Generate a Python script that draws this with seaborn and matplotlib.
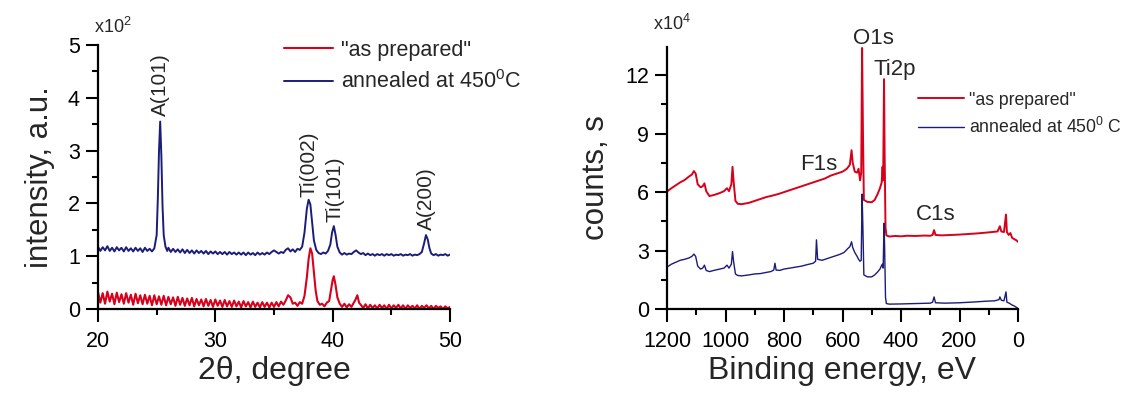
import matplotlib
matplotlib.use("Agg")
import matplotlib.pyplot as plt
import seaborn as sns
import pandas as pd
from matplotlib.ticker import MultipleLocator

# XRD patterns: (2theta, intensity x10^2)
xrd_as_prepared = [
    (20.0, 0.32), (20.2, 0.12), (20.4, 0.30), (20.6, 0.10), (20.8, 0.33), (21.0, 0.14), (21.2, 0.29), (21.4, 0.09),
    (21.6, 0.31), (21.8, 0.13), (22.0, 0.28), (22.2, 0.10), (22.4, 0.30), (22.6, 0.12), (22.8, 0.27), (23.0, 0.08),
    (23.2, 0.29), (23.4, 0.11), (23.6, 0.26), (23.8, 0.09), (24.0, 0.27), (24.2, 0.10), (24.4, 0.25), (24.6, 0.07),
    (24.8, 0.26), (25.0, 0.09), (25.2, 0.24), (25.4, 0.08), (25.6, 0.25), (25.8, 0.07), (26.0, 0.23), (26.2, 0.09),
    (26.4, 0.22), (26.6, 0.06), (26.8, 0.23), (27.0, 0.08), (27.2, 0.21), (27.4, 0.06), (27.6, 0.20), (27.8, 0.07),
    (28.0, 0.21), (28.2, 0.05), (28.4, 0.19), (28.6, 0.07), (28.8, 0.18), (29.0, 0.05), (29.2, 0.19), (29.4, 0.06),
    (29.6, 0.17), (29.8, 0.04), (30.0, 0.18), (30.2, 0.06), (30.4, 0.16), (30.6, 0.04), (30.8, 0.17), (31.0, 0.05),
    (31.2, 0.15), (31.4, 0.04), (31.6, 0.16), (31.8, 0.05), (32.0, 0.14), (32.2, 0.03), (32.4, 0.15), (32.6, 0.05),
    (32.8, 0.13), (33.0, 0.03), (33.2, 0.14), (33.4, 0.04), (33.6, 0.12), (33.8, 0.03), (34.0, 0.13), (34.2, 0.04),
    (34.4, 0.12), (34.6, 0.03), (34.8, 0.12), (35.0, 0.04), (35.2, 0.13), (35.4, 0.05), (35.6, 0.14), (35.8, 0.08),
    (36.0, 0.16), (36.2, 0.26), (36.4, 0.22), (36.6, 0.10), (36.8, 0.12), (37.0, 0.06), (37.2, 0.13), (37.4, 0.10),
    (37.6, 0.25), (37.8, 0.60), (37.95, 0.95), (38.1, 1.15), (38.25, 1.05), (38.4, 0.70), (38.55, 0.35), (38.7, 0.15),
    (38.9, 0.08), (39.1, 0.10), (39.3, 0.05), (39.5, 0.12), (39.7, 0.15), (39.85, 0.35), (40.0, 0.55), (40.1, 0.62),
    (40.25, 0.45), (40.4, 0.22), (40.6, 0.10), (40.8, 0.04), (41.0, 0.10), (41.2, 0.03), (41.4, 0.09), (41.6, 0.04),
    (41.8, 0.12), (41.95, 0.18), (42.1, 0.26), (42.25, 0.12), (42.4, 0.08), (42.6, 0.02), (42.8, 0.09), (43.0, 0.01),
    (43.2, 0.08), (43.4, 0.02), (43.6, 0.07), (43.8, 0.01), (44.0, 0.08), (44.2, 0.02), (44.4, 0.07), (44.6, 0.00),
    (44.8, 0.08), (45.0, 0.01), (45.2, 0.07), (45.4, 0.02), (45.6, 0.08), (45.8, 0.01), (46.0, 0.07), (46.2, 0.00),
    (46.4, 0.07), (46.6, 0.02), (46.8, 0.06), (47.0, 0.01), (47.2, 0.07), (47.4, 0.00), (47.6, 0.06), (47.8, 0.02),
    (48.0, 0.07), (48.2, 0.01), (48.4, 0.06), (48.6, 0.00), (48.8, 0.06), (49.0, 0.02), (49.2, 0.05), (49.4, 0.00),
    (49.6, 0.05), (49.8, 0.01), (50.0, 0.04),
]

xrd_annealed = [
    (20.0, 1.18), (20.2, 1.10), (20.4, 1.17), (20.6, 1.11), (20.8, 1.19), (21.0, 1.10), (21.2, 1.16), (21.4, 1.09),
    (21.6, 1.17), (21.8, 1.11), (22.0, 1.16), (22.2, 1.09), (22.4, 1.17), (22.6, 1.10), (22.8, 1.15), (23.0, 1.09),
    (23.2, 1.16), (23.4, 1.10), (23.6, 1.15), (23.8, 1.08), (24.0, 1.16), (24.2, 1.10), (24.4, 1.14), (24.6, 1.09),
    (24.8, 1.15), (25.0, 1.40), (25.1, 2.10), (25.2, 3.00), (25.3, 3.55), (25.4, 2.90), (25.5, 1.95), (25.6, 1.40),
    (25.75, 1.18), (25.9, 1.10), (26.0, 1.16), (26.2, 1.08), (26.4, 1.14), (26.6, 1.08), (26.8, 1.13), (27.0, 1.07),
    (27.2, 1.13), (27.4, 1.06), (27.6, 1.12), (27.8, 1.06), (28.0, 1.11), (28.2, 1.05), (28.4, 1.11), (28.6, 1.06),
    (28.8, 1.10), (29.0, 1.05), (29.2, 1.10), (29.4, 1.04), (29.6, 1.09), (29.8, 1.05), (30.0, 1.09), (30.2, 1.04),
    (30.4, 1.08), (30.6, 1.04), (30.8, 1.08), (31.0, 1.03), (31.2, 1.08), (31.4, 1.04), (31.6, 1.07), (31.8, 1.03),
    (32.0, 1.07), (32.2, 1.03), (32.4, 1.07), (32.6, 1.02), (32.8, 1.07), (33.0, 1.03), (33.2, 1.06), (33.4, 1.02),
    (33.6, 1.07), (33.8, 1.03), (34.0, 1.06), (34.2, 1.03), (34.4, 1.07), (34.6, 1.04), (34.8, 1.08), (35.0, 1.11),
    (35.2, 1.08), (35.4, 1.05), (35.6, 1.08), (35.8, 1.06), (36.0, 1.12), (36.2, 1.15), (36.4, 1.09), (36.6, 1.13),
    (36.8, 1.08), (37.0, 1.14), (37.2, 1.12), (37.4, 1.18), (37.6, 1.45), (37.8, 1.90), (37.95, 2.07), (38.1, 1.98),
    (38.25, 1.65), (38.4, 1.30), (38.6, 1.12), (38.8, 1.06), (39.0, 1.04), (39.2, 1.07), (39.4, 1.05), (39.6, 1.10),
    (39.8, 1.22), (39.95, 1.45), (40.1, 1.57), (40.25, 1.40), (40.4, 1.18), (40.6, 1.07), (40.8, 1.03), (41.0, 1.06),
    (41.2, 1.03), (41.4, 1.05), (41.6, 1.04), (41.8, 1.08), (42.0, 1.11), (42.2, 1.07), (42.4, 1.04), (42.6, 1.06),
    (42.8, 1.02), (43.0, 1.05), (43.2, 1.02), (43.4, 1.04), (43.6, 1.01), (43.8, 1.04), (44.0, 1.02), (44.2, 1.04),
    (44.4, 1.01), (44.6, 1.04), (44.8, 1.02), (45.0, 1.04), (45.2, 1.01), (45.4, 1.03), (45.6, 1.02), (45.8, 1.04),
    (46.0, 1.01), (46.2, 1.03), (46.4, 1.02), (46.6, 1.04), (46.8, 1.01), (47.0, 1.03), (47.2, 1.02), (47.4, 1.04),
    (47.6, 1.08), (47.8, 1.25), (47.95, 1.40), (48.1, 1.32), (48.25, 1.15), (48.4, 1.05), (48.6, 1.02), (48.8, 1.04),
    (49.0, 1.01), (49.2, 1.03), (49.4, 1.02), (49.6, 1.04), (49.8, 1.01), (50.0, 1.03),
]

# XPS survey spectra: (binding energy eV, counts x10^4)
xps_as_prepared = [
    (1200, 6.03), (1185, 6.20), (1170, 6.35), (1155, 6.50), (1140, 6.62), (1125, 6.80), (1115, 6.90), (1108, 7.08),
    (1102, 6.95), (1095, 6.40), (1085, 6.25), (1078, 6.30), (1072, 6.45), (1066, 6.05), (1055, 5.80), (1040, 5.85),
    (1020, 5.95), (1005, 6.05), (995, 6.20), (988, 6.05), (980, 6.40), (976, 7.30), (972, 6.50), (966, 5.55),
    (958, 5.40), (945, 5.38), (920, 5.45), (900, 5.55), (880, 5.65), (860, 5.75), (840, 5.82), (820, 5.90),
    (800, 6.00), (780, 6.10), (760, 6.20), (740, 6.30), (720, 6.40), (700, 6.50), (680, 6.60), (660, 6.70),
    (640, 6.85), (620, 6.95), (600, 7.05), (585, 7.20), (575, 7.40), (569, 8.15), (565, 7.50), (558, 7.05),
    (550, 7.00), (545, 7.20), (540, 6.60), (536, 7.00), (533, 13.40), (530, 9.00), (527, 5.60), (515, 5.50),
    (500, 5.48), (490, 5.60), (480, 5.90), (472, 6.20), (466, 6.50), (463, 7.30), (461, 6.60), (458, 11.80),
    (456, 8.00), (453, 4.20), (450, 3.78), (440, 3.72), (420, 3.75), (400, 3.73), (380, 3.76), (350, 3.75),
    (320, 3.77), (300, 3.76), (292, 3.80), (287, 4.05), (282, 3.80), (260, 3.78), (230, 3.80), (200, 3.82),
    (170, 3.85), (140, 3.88), (110, 3.92), (90, 3.95), (70, 3.98), (62, 4.25), (57, 3.98), (48, 3.95),
    (41, 4.85), (38, 3.95), (32, 3.80), (26, 3.90), (20, 3.65), (12, 3.58), (5, 3.52), (0, 3.45),
]

xps_annealed = [
    (1200, 2.15), (1185, 2.30), (1170, 2.40), (1155, 2.50), (1140, 2.55), (1125, 2.62), (1115, 2.70), (1108, 2.82),
    (1102, 2.70), (1095, 2.20), (1085, 2.05), (1078, 2.10), (1072, 2.25), (1066, 1.98), (1055, 1.92), (1040, 1.98),
    (1020, 2.05), (1005, 2.10), (995, 2.25), (988, 2.10), (980, 2.30), (976, 2.95), (972, 2.40), (966, 1.80),
    (958, 1.72), (945, 1.70), (920, 1.75), (900, 1.80), (880, 1.82), (860, 1.88), (845, 1.92), (835, 2.00),
    (831, 2.35), (827, 2.00), (815, 1.98), (800, 2.05), (780, 2.10), (760, 2.15), (740, 2.20), (720, 2.28),
    (700, 2.35), (692, 2.45), (689, 3.55), (685, 2.55), (670, 2.50), (650, 2.60), (630, 2.70), (610, 2.80),
    (595, 2.90), (582, 3.10), (575, 3.20), (569, 3.45), (565, 3.15), (558, 2.90), (550, 2.70), (545, 2.55),
    (540, 2.45), (536, 2.50), (533, 5.90), (530, 4.00), (527, 1.75), (515, 1.65), (500, 1.65), (490, 1.75),
    (480, 1.90), (472, 2.05), (466, 2.25), (463, 2.30), (461, 2.10), (458, 4.40), (456, 3.20), (453, 0.60),
    (450, 0.28), (440, 0.25), (400, 0.26), (350, 0.28), (300, 0.30), (292, 0.35), (287, 0.62), (282, 0.32),
    (250, 0.30), (200, 0.32), (150, 0.36), (110, 0.40), (80, 0.42), (65, 0.48), (62, 0.62), (57, 0.45),
    (48, 0.42), (41, 0.88), (38, 0.35), (30, 0.30), (22, 0.22), (12, 0.15), (5, 0.08), (0, 0.03),
]

# peak labels: (text, x, y)
xrd_peaks = [("A(101)", 25.3, 3.65), ("Ti(002)", 38.0, 2.12), ("Ti(101)", 40.2, 1.65), ("A(200)", 48.0, 1.5)]
xps_peaks = [("O1s", 495, 13.62), ("Ti2p", 420, 12.0), ("F1s", 682, 7.12), ("C1s", 283, 4.55)]

RED = "#d8001a"
BLUE = "#1c1c7a"

sns.set_style("ticks")
plt.rcParams["font.family"] = ["Liberation Sans", "DejaVu Sans"]
plt.rcParams["mathtext.fontset"] = "custom"
plt.rcParams["mathtext.rm"] = "Liberation Sans"
plt.rcParams["mathtext.default"] = "regular"

fig = plt.figure(figsize=(11.43, 3.95), dpi=100)
ax1 = fig.add_axes([98 / 1143, 86 / 395, 352 / 1143, 264 / 395])
ax2 = fig.add_axes([667 / 1143, 86 / 395, 351 / 1143, 262 / 395])


def to_df(pairs):
    return pd.DataFrame(pairs, columns=["x", "y"])


def style_axes(ax):
    sns.despine(ax=ax)
    for s in ["left", "bottom"]:
        ax.spines[s].set_linewidth(1.6)
        ax.spines[s].set_color("black")
    ax.tick_params(which="major", direction="out", length=9, width=1.5, labelsize=15.5, colors="black", pad=4)
    ax.tick_params(which="minor", direction="out", length=4.5, width=1.5, colors="black")
    ax.tick_params(axis="x", which="major", pad=7)
    ax.set_facecolor("white")


# left: XRD
sns.lineplot(data=to_df(xrd_as_prepared), x="x", y="y", ax=ax1, color=RED, lw=1.5,
             estimator=None, label='"as prepared"')
sns.lineplot(data=to_df(xrd_annealed), x="x", y="y", ax=ax1, color=BLUE, lw=1.4,
             estimator=None, label=r"annealed at 450$^0$C")
ax1.set_xlim(20, 50)
ax1.set_ylim(0, 5)
ax1.xaxis.set_major_locator(MultipleLocator(10))
ax1.xaxis.set_minor_locator(MultipleLocator(5))
ax1.yaxis.set_major_locator(MultipleLocator(1))
ax1.yaxis.set_minor_locator(MultipleLocator(0.5))
style_axes(ax1)
ax1.set_xlabel("2θ, degree", fontsize=23, labelpad=3)
ax1.set_ylabel("intensity, a.u.", fontsize=22.5, labelpad=9)
ax1.text(-0.01, 1.03, r"x10$^2$", transform=ax1.transAxes, fontsize=13, ha="left", va="bottom")
for txt, px, py in xrd_peaks:
    ax1.text(px, py, txt, rotation=90, ha="center", va="bottom", fontsize=15)
ax1.legend(loc="upper left", bbox_to_anchor=(0.528, 1.02), frameon=False, fontsize=15.5,
           handlelength=2.3, handletextpad=0.35, labelspacing=0.45, borderpad=0, borderaxespad=0)

# right: XPS
sns.lineplot(data=to_df(xps_as_prepared), x="x", y="y", ax=ax2, color=RED, lw=1.4,
             estimator=None, label='"as prepared"')
sns.lineplot(data=to_df(xps_annealed), x="x", y="y", ax=ax2, color=BLUE, lw=1.0,
             estimator=None, label=r"annealed at 450$^0$ C")
ax2.set_xlim(1200, 0)
ax2.set_ylim(0, 13.45)
ax2.xaxis.set_major_locator(MultipleLocator(200))
ax2.xaxis.set_minor_locator(MultipleLocator(100))
ax2.yaxis.set_major_locator(MultipleLocator(3))
ax2.yaxis.set_minor_locator(MultipleLocator(1.5))
style_axes(ax2)
ax2.set_xlabel("Binding energy, eV", fontsize=23, labelpad=3)
ax2.set_ylabel("counts, s", fontsize=22.5, labelpad=10)
ax2.text(-0.04, 1.05, r"x10$^4$", transform=ax2.transAxes, fontsize=13, ha="left", va="bottom")
for txt, px, py in xps_peaks:
    ax2.text(px, py, txt, ha="center", va="baseline", fontsize=16, clip_on=False)
ax2.legend(loc="upper left", bbox_to_anchor=(0.715, 0.83), frameon=False, fontsize=12.7,
           handlelength=2.6, handletextpad=0.3, labelspacing=0.5, borderpad=0, borderaxespad=0)

fig.savefig("out.png", dpi=100, facecolor="white")
